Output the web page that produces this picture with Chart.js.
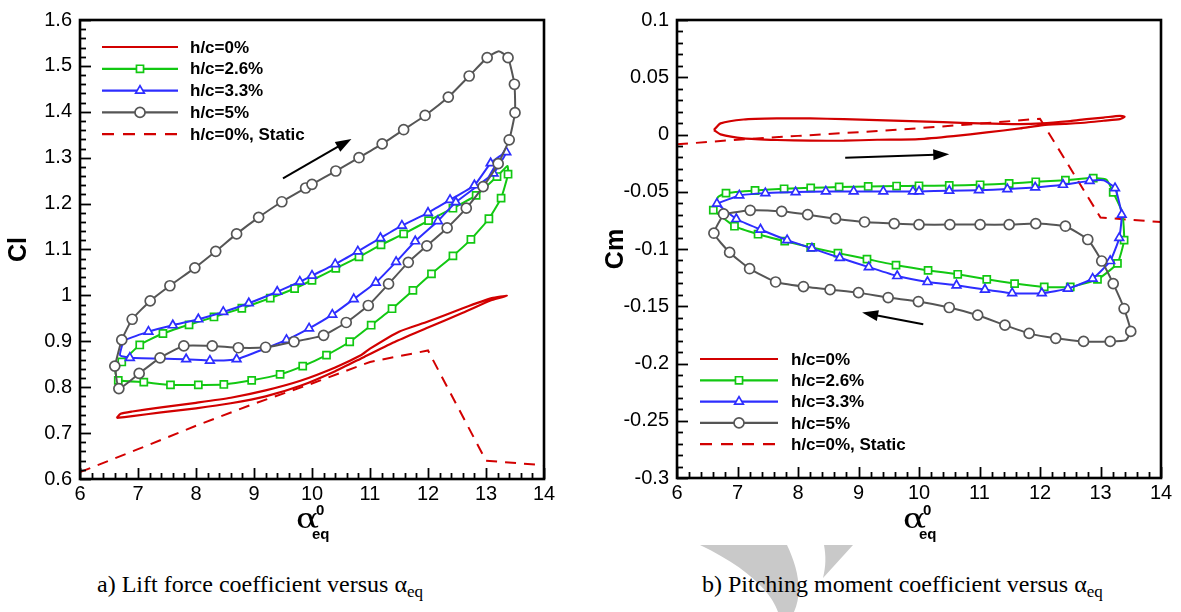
<!DOCTYPE html>
<html>
<head>
<meta charset="utf-8">
<script src="https://cdn.jsdelivr.net/npm/chart.js@4.4.1/dist/chart.umd.min.js"></script>
<style>
html,body{margin:0;padding:0;background:#fff;width:1181px;height:612px;overflow:hidden;}
canvas{position:absolute;top:0;}
#c1{left:0;}
#c2{left:590px;}
.cap{position:absolute;font-family:"Liberation Serif","Times New Roman",serif;font-size:24px;line-height:24px;color:#000;white-space:nowrap;}
.cap .s{font-size:17px;position:relative;top:5px;}
#wm{position:absolute;left:0;top:0;}
</style>
</head>
<body>
<svg id="wm" width="1181" height="612">
  <path d="M700 545 L787 545 C798 568 803 592 794 612 L778 612 C771 592 748 568 700 545 Z" fill="#c9c9c9"/>
  <path d="M824 545 L853 545 L823 578 C826 566 826 556 824 545 Z" fill="#c9c9c9"/>
</svg>
<canvas id="c1" width="590" height="545"></canvas>
<canvas id="c2" width="591" height="545"></canvas>
<div class="cap" style="left:97px;top:572px;">a) Lift force coefficient versus α<span class="s">eq</span></div>
<div class="cap" style="left:702px;top:572px;">b) Pitching moment coefficient versus α<span class="s">eq</span></div>
<script>
// ---------- tick labels ----------
const alphaTicks = [6, 7, 8, 9, 10, 11, 12, 13, 14];
const clTicks = [0.6, 0.7, 0.8, 0.9, 1.0, 1.1, 1.2, 1.3, 1.4, 1.5, 1.6];
const cmTicks = [-0.3, -0.25, -0.2, -0.15, -0.1, -0.05, 0, 0.05, 0.1];
const seriesLabels = ['h/c=0%', 'h/c=2.6%', 'h/c=3.3%', 'h/c=5%', 'h/c=0%, Static'];

// ---------- Cl (lift) ----------
const clH0Alpha = [6.63, 6.90, 7.40, 8.00, 8.60, 9.20, 9.80, 10.40, 10.90, 11.45, 12.00, 12.60, 13.10, 13.36, 13.10, 12.60, 12.00, 11.50, 11.00, 10.85, 10.40, 9.80, 9.20, 8.60, 8.00, 7.40, 6.90, 6.70, 6.63];
const clH0 = [0.733, 0.737, 0.745, 0.754, 0.765, 0.780, 0.803, 0.835, 0.866, 0.900, 0.930, 0.962, 0.990, 0.999, 0.994, 0.972, 0.943, 0.921, 0.884, 0.870, 0.843, 0.814, 0.793, 0.777, 0.766, 0.756, 0.747, 0.742, 0.733];

const clH26Alpha = [6.72, 7.03, 7.43, 7.88, 8.31, 8.79, 9.28, 9.70, 10.00, 10.41, 10.81, 11.19, 11.58, 12.01, 12.43, 12.83, 13.19, 13.37, 13.38, 13.26, 13.05, 12.74, 12.43, 12.06, 11.74, 11.38, 11.02, 10.65, 10.25, 9.84, 9.45, 8.96, 8.48, 8.04, 7.56, 7.10, 6.66, 6.61, 6.72];
const clH26 = [0.855, 0.892, 0.917, 0.936, 0.953, 0.972, 0.994, 1.015, 1.033, 1.059, 1.084, 1.110, 1.134, 1.163, 1.190, 1.218, 1.259, 1.282, 1.264, 1.212, 1.167, 1.122, 1.086, 1.047, 1.011, 0.971, 0.935, 0.899, 0.870, 0.846, 0.828, 0.815, 0.806, 0.805, 0.805, 0.811, 0.815, 0.833, 0.855];

const clH33Alpha = [6.75, 7.18, 7.60, 8.04, 8.47, 8.91, 9.40, 9.79, 10.00, 10.40, 10.79, 11.18, 11.55, 12.00, 12.38, 12.80, 13.08, 13.35, 13.13, 12.48, 12.17, 11.78, 11.45, 11.10, 10.72, 10.35, 9.95, 9.56, 8.70, 8.24, 7.83, 6.86, 6.69, 6.75];
const clH33 = [0.902, 0.921, 0.935, 0.948, 0.964, 0.983, 1.008, 1.030, 1.043, 1.068, 1.096, 1.125, 1.152, 1.180, 1.208, 1.240, 1.288, 1.312, 1.266, 1.203, 1.162, 1.118, 1.073, 1.028, 0.992, 0.958, 0.928, 0.903, 0.861, 0.858, 0.861, 0.864, 0.870, 0.902];

const clH5Alpha = [6.60, 6.72, 6.90, 7.21, 7.55, 7.98, 8.34, 8.70, 9.08, 9.48, 9.89, 10.00, 10.41, 10.81, 11.21, 11.58, 11.95, 12.35, 12.71, 13.02, 13.22, 13.38, 13.49, 13.50, 13.40, 13.21, 12.95, 12.66, 12.33, 11.98, 11.66, 11.32, 10.97, 10.59, 10.20, 9.69, 9.20, 8.73, 8.28, 7.79, 7.38, 7.02, 6.67, 6.60];
const clH5 = [0.846, 0.903, 0.948, 0.988, 1.021, 1.060, 1.096, 1.134, 1.170, 1.204, 1.234, 1.242, 1.271, 1.300, 1.330, 1.361, 1.392, 1.432, 1.478, 1.518, 1.532, 1.518, 1.460, 1.398, 1.339, 1.287, 1.237, 1.190, 1.147, 1.108, 1.072, 1.025, 0.978, 0.941, 0.913, 0.899, 0.887, 0.886, 0.890, 0.890, 0.864, 0.830, 0.797, 0.846];

const clStaticAlpha = [6, 7, 8, 9, 10, 11, 12, 13, 14];
const clStatic = [0.615, 0.665, 0.716, 0.764, 0.808, 0.855, 0.880, 0.640, 0.630];

const clArrow = [[9.50, 1.255], [10.68, 1.341]];

// ---------- Cm (pitching moment) ----------
const cmH0Alpha = [6.61, 6.72, 7.10, 7.65, 8.20, 8.76, 9.31, 9.86, 10.40, 11.00, 11.67, 12.03, 12.50, 12.77, 13.05, 13.32, 13.40, 13.32, 13.05, 12.77, 12.40, 12.05, 11.67, 11.12, 10.57, 10.00, 9.31, 8.76, 8.20, 7.65, 7.10, 6.72, 6.61];
const cmH0 = [0.0039, 0.0097, 0.0131, 0.0140, 0.0140, 0.0134, 0.0125, 0.0117, 0.0108, 0.0097, 0.0091, 0.0097, 0.0118, 0.0134, 0.0148, 0.0163, 0.0155, 0.0134, 0.0120, 0.0105, 0.0093, 0.0082, 0.0053, 0.0018, -0.0014, -0.0040, -0.0046, -0.0054, -0.0054, -0.0048, -0.0034, 0.0001, 0.0039];

const cmH26Alpha = [6.60, 6.68, 6.81, 7.29, 7.77, 8.21, 8.68, 9.16, 9.63, 10.00, 10.50, 11.01, 11.49, 11.93, 12.42, 12.88, 13.10, 13.21, 13.36, 13.39, 13.28, 12.95, 12.50, 12.07, 11.58, 11.12, 10.64, 10.15, 9.62, 9.14, 8.66, 8.21, 7.78, 7.34, 6.95, 6.60];
const cmH26 = [-0.0660, -0.0545, -0.0512, -0.0489, -0.0474, -0.0466, -0.0458, -0.0454, -0.0450, -0.0448, -0.0445, -0.0439, -0.0428, -0.0413, -0.0399, -0.0381, -0.0395, -0.0506, -0.0680, -0.0923, -0.1126, -0.1265, -0.1331, -0.1331, -0.1302, -0.1265, -0.1221, -0.1187, -0.1141, -0.1088, -0.1036, -0.0985, -0.0931, -0.0871, -0.0801, -0.0660];

const cmH33Alpha = [6.66, 7.03, 7.46, 7.96, 8.46, 8.92, 9.41, 9.90, 10.00, 10.50, 10.99, 11.46, 11.92, 12.38, 12.82, 13.05, 13.24, 13.35, 13.31, 13.16, 12.87, 12.46, 12.03, 11.54, 11.09, 10.62, 10.14, 9.64, 9.17, 8.69, 8.23, 7.82, 7.38, 6.98, 6.66];
const cmH33 = [-0.0604, -0.0532, -0.0512, -0.0503, -0.0497, -0.0497, -0.0497, -0.0497, -0.0497, -0.0491, -0.0486, -0.0477, -0.0462, -0.0439, -0.0405, -0.0400, -0.0468, -0.0700, -0.0903, -0.1105, -0.1259, -0.1346, -0.1386, -0.1386, -0.1354, -0.1317, -0.1288, -0.1236, -0.1158, -0.1077, -0.0995, -0.0923, -0.0830, -0.0738, -0.0604];

const cmH5Alpha = [6.77, 7.21, 7.73, 8.16, 8.62, 9.10, 9.59, 10.00, 10.51, 11.01, 11.49, 11.93, 12.42, 12.79, 13.02, 13.21, 13.39, 13.50, 13.42, 13.16, 12.72, 12.26, 11.82, 11.42, 10.97, 10.50, 9.99, 9.49, 9.00, 8.53, 8.09, 7.63, 7.20, 6.87, 6.61, 6.77];
const cmH5 = [-0.0694, -0.0662, -0.0671, -0.0700, -0.0735, -0.0764, -0.0778, -0.0787, -0.0787, -0.0787, -0.0787, -0.0778, -0.0801, -0.0917, -0.1105, -0.1302, -0.1520, -0.1720, -0.1795, -0.1807, -0.1807, -0.1780, -0.1737, -0.1665, -0.1578, -0.1511, -0.1459, -0.1424, -0.1381, -0.1355, -0.1328, -0.1288, -0.1172, -0.1030, -0.0862, -0.0694];

const cmStaticAlpha = [6, 7, 8, 9, 10, 11, 12, 13, 14];
const cmStatic = [-0.0086, -0.0045, -0.0012, 0.0020, 0.0055, 0.0095, 0.0138, -0.0725, -0.0765];

const cmArrows = [[[8.78, -0.0202], [10.50, -0.0173]], [[10.07, -0.1657], [9.06, -0.1555]]];

// curve vertices that carry no symbol (smooth turning points of the loops)
const clPlain = {1: [17, 37, 38], 2: [0, 32, 33], 3: [20, 43]};
const cmPlain = {1: [1, 16, 18, 35], 2: [15, 34], 3: [18, 35]};

// ---------- styling ----------
const FONT = '"Liberation Sans", Arial, Helvetica, sans-serif';
Chart.defaults.font.family = FONT;
const RED = '#d20000', GREEN = '#12c812', BLUE = '#2d2dff', GRAY = '#555555';
const looks = [
  {color: RED, style: false, dash: [], width: 2.2, tension: 0.2},
  {color: GREEN, style: 'rect', radius: 5, dash: [], width: 2, tension: 0.15},
  {color: BLUE, style: 'triangle', radius: 5, dash: [], width: 2, tension: 0.15},
  {color: GRAY, style: 'circle', radius: 5, dash: [], width: 2, tension: 0.15},
  {color: RED, style: false, dash: [11, 8], width: 2, tension: 0}
];

const pts = (xs, ys) => xs.map((x, i) => ({x: x, y: ys[i]}));
const fmt = v => String(parseFloat(Number(v).toFixed(3)));

function makeDatasets(series, plain) {
  return series.map((s, i) => {
    const L = looks[i];
    const hide = plain[i] || [];
    return {
      label: seriesLabels[i],
      data: pts(s[0], s[1]),
      showLine: true,
      borderColor: L.color,
      backgroundColor: L.color,
      borderWidth: L.width,
      borderDash: L.dash,
      tension: L.tension,
      pointStyle: L.style || 'circle',
      pointRadius: L.style ? (c => hide.includes(c.dataIndex) ? 0 : L.radius) : 0,
      pointBorderWidth: 1.7,
      pointBorderColor: L.color,
      pointBackgroundColor: '#ffffff',
      pointHoverRadius: 0,
      order: [4, 2, 1, 0, 3][i]
    };
  });
}

const deco = {
  id: 'deco',
  afterDatasetsDraw(chart, args, o) {
    const {ctx, chartArea: ca, scales: {x, y}} = chart;
    ctx.save();
    // inward ticks
    ctx.strokeStyle = '#000';
    ctx.lineWidth = 1.8;
    const nX = Math.round((x.max - x.min) / o.xMinor);
    for (let i = 0; i <= nX; i++) {
      const v = x.min + i * o.xMinor;
      const px = Math.round(x.getPixelForValue(v)) + 0.5;
      const major = i % o.xEvery === 0;
      ctx.beginPath(); ctx.moveTo(px, ca.bottom); ctx.lineTo(px, ca.bottom - (major ? 11 : 6)); ctx.stroke();
    }
    const nY = Math.round((y.max - y.min) / o.yMinor);
    for (let i = 0; i <= nY; i++) {
      const v = y.min + i * o.yMinor;
      const py = Math.round(y.getPixelForValue(v)) + 0.5;
      const major = i % o.yEvery === 0;
      ctx.beginPath(); ctx.moveTo(ca.left, py); ctx.lineTo(ca.left + (major ? 11 : 6), py); ctx.stroke();
    }
    // frame
    ctx.lineWidth = 2.6;
    ctx.strokeRect(ca.left, ca.top, ca.right - ca.left, ca.bottom - ca.top);

    // arrows
    ctx.fillStyle = '#000';
    o.arrows.forEach(ar => {
      const p0 = [x.getPixelForValue(ar[0][0]), y.getPixelForValue(ar[0][1])];
      const p1 = [x.getPixelForValue(ar[1][0]), y.getPixelForValue(ar[1][1])];
      const ang = Math.atan2(p1[1] - p0[1], p1[0] - p0[0]);
      const L = 16, W = 5.5;
      const bx = p1[0] - L * Math.cos(ang), by = p1[1] - L * Math.sin(ang);
      ctx.lineWidth = 2;
      ctx.beginPath(); ctx.moveTo(p0[0], p0[1]); ctx.lineTo(bx + 2 * Math.cos(ang), by + 2 * Math.sin(ang)); ctx.stroke();
      ctx.beginPath();
      ctx.moveTo(p1[0], p1[1]);
      ctx.lineTo(bx + W * Math.sin(ang), by - W * Math.cos(ang));
      ctx.lineTo(bx - W * Math.sin(ang), by + W * Math.cos(ang));
      ctx.closePath(); ctx.fill();
    });

    // legend
    const lg = o.legend;
    chart.data.datasets.forEach((ds, i) => {
      const L = looks[i];
      const ly = lg.y0 + i * lg.dy;
      ctx.strokeStyle = L.color;
      ctx.lineWidth = 2.2;
      ctx.setLineDash(L.dash.length ? [12, 9] : []);
      ctx.beginPath(); ctx.moveTo(lg.x0, ly); ctx.lineTo(lg.x1, ly); ctx.stroke();
      ctx.setLineDash([]);
      if (L.style) {
        ctx.fillStyle = '#fff';
        ctx.lineWidth = 1.7;
        Chart.helpers.drawPoint(ctx, {pointStyle: L.style, radius: L.radius, borderWidth: 1.7, rotation: 0}, (lg.x0 + lg.x1) / 2, ly);
      }
      ctx.fillStyle = '#000';
      ctx.font = 'bold 17px ' + FONT;
      ctx.textBaseline = 'middle';
      ctx.textAlign = 'left';
      ctx.fillText(ds.label, lg.tx, ly + 1);
    });

    // x-axis title: alpha_eq^0
    const cx = x.getPixelForValue(10);
    ctx.fillStyle = '#000';
    ctx.textBaseline = 'alphabetic';
    ctx.save();
    ctx.translate(cx - 16, 528);
    ctx.scale(1.22, 1);
    ctx.font = '28px "DejaVu Serif", "Liberation Serif", serif';
    ctx.fillText('α', 0, 0);
    ctx.restore();
    ctx.font = 'bold 15px ' + FONT;
    ctx.fillText('0', cx + 4, 515);
    ctx.fillText('eq', cx, 539);
    ctx.restore();
  }
};

function build(id, cfg) {
  return new Chart(document.getElementById(id), {
    type: 'scatter',
    data: {datasets: cfg.datasets},
    plugins: [deco],
    options: {
      responsive: false,
      animation: false,
      devicePixelRatio: 1,
      events: [],
      layout: {padding: {left: 0, right: cfg.padRight, top: cfg.padTop, bottom: 0}},
      plugins: {
        legend: {display: false},
        tooltip: {enabled: false},
        deco: cfg.deco
      },
      scales: {
        x: {
          type: 'linear', min: 6, max: 14,
          afterBuildTicks: s => { s.ticks = alphaTicks.map(v => ({value: v})); },
          afterFit: s => { s.height = cfg.xHeight; },
          grid: {display: false, drawTicks: false},
          border: {display: false},
          ticks: {color: '#000', font: {size: 20}, padding: 3, maxRotation: 0, autoSkip: false, callback: v => fmt(v)}
        },
        y: {
          type: 'linear', min: cfg.yMin, max: cfg.yMax,
          afterBuildTicks: s => { s.ticks = cfg.yTicks.map(v => ({value: v})); },
          afterFit: s => { s.width = cfg.yWidth; },
          grid: {display: false, drawTicks: false},
          border: {display: false},
          ticks: {color: '#000', font: {size: 20}, padding: 8, autoSkip: false, callback: v => fmt(v)},
          title: {display: true, text: cfg.yTitle, color: '#000', font: {size: 25, weight: 'bold', lineHeight: 1}, padding: {top: cfg.titlePad, bottom: 0}}
        }
      }
    }
  });
}

build('c1', {
  datasets: makeDatasets([[clH0Alpha, clH0], [clH26Alpha, clH26], [clH33Alpha, clH33], [clH5Alpha, clH5], [clStaticAlpha, clStatic]], clPlain),
  yMin: 0.6, yMax: 1.6, yTicks: clTicks, yTitle: 'Cl',
  padRight: 46, padTop: 16, xHeight: 66, yWidth: 80, titlePad: 7,
  deco: {xMinor: 0.2, xEvery: 5, yMinor: 0.02, yEvery: 5, arrows: [clArrow],
         legend: {x0: 102, x1: 178, tx: 190, y0: 47, dy: 21.8}}
});

build('c2', {
  datasets: makeDatasets([[cmH0Alpha, cmH0], [cmH26Alpha, cmH26], [cmH33Alpha, cmH33], [cmH5Alpha, cmH5], [cmStaticAlpha, cmStatic]], cmPlain),
  yMin: -0.3, yMax: 0.1, yTicks: cmTicks, yTitle: 'Cm',
  padRight: 20, padTop: 17, xHeight: 67, yWidth: 87, titlePad: 14,
  deco: {xMinor: 0.2, xEvery: 5, yMinor: 0.01, yEvery: 5, arrows: cmArrows,
         legend: {x0: 110, x1: 188, tx: 201, y0: 359, dy: 21.3}}
});
</script>
</body>
</html>
